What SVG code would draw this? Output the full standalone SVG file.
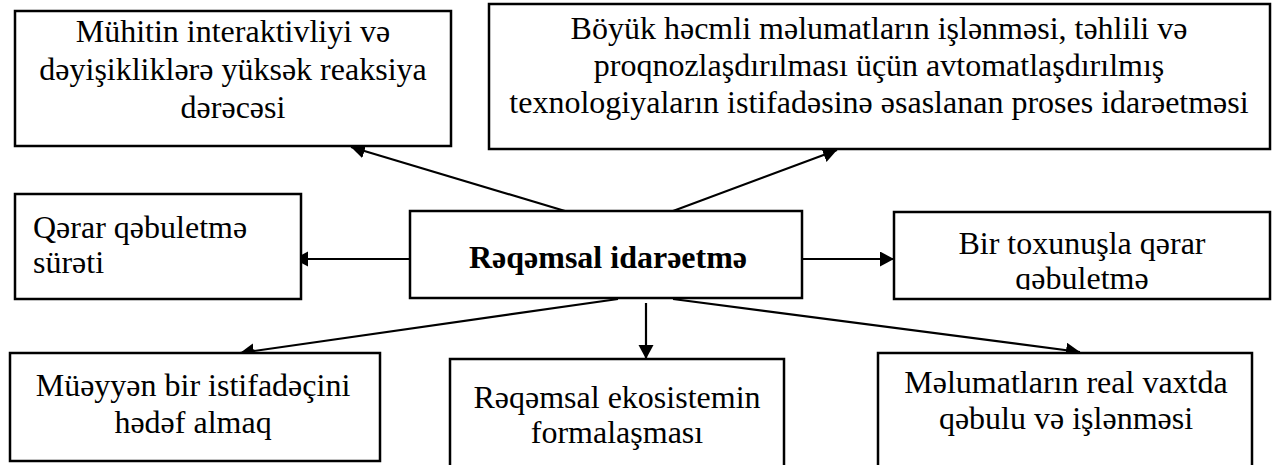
<svg xmlns="http://www.w3.org/2000/svg" width="1274" height="465" viewBox="0 0 1274 465">
<style>
.box{fill:#fff;stroke:#000;stroke-width:2.5}
.t{font-family:"Liberation Serif","DejaVu Serif",serif;font-size:32px;fill:#000}
.c{text-anchor:middle}
.b{font-weight:bold}
.con{stroke:#000;stroke-width:2.2;fill:none;marker-end:url(#ah)}
</style>
<defs>
<marker id="ah" markerUnits="userSpaceOnUse" markerWidth="16" markerHeight="16" refX="14" refY="7.5" orient="auto">
<path d="M0,0 L14,7.5 L0,15 z" fill="#000"/>
</marker>
<clipPath id="clipBir"><rect x="894" y="212" width="376" height="78"/></clipPath>
</defs>
<rect width="1274" height="465" fill="#fff"/>
<g id="connectors">
<line class="con" x1="565" y1="211" x2="351" y2="147"/>
<line class="con" x1="673" y1="211" x2="837" y2="150"/>
<line class="con" x1="409" y1="259" x2="294" y2="259"/>
<line class="con" x1="802" y1="259" x2="894" y2="259"/>
<line class="con" x1="618" y1="299" x2="240" y2="353"/>
<line class="con" x1="646" y1="303" x2="646" y2="359"/>
<line class="con" x1="673" y1="299" x2="1080" y2="352"/>
</g>
<g id="node-muhit">
<rect class="box" x="15" y="11" width="436" height="135"/>
<text class="t c" x="233" y="42">Mühitin interaktivliyi və</text>
<text class="t c" x="233" y="80">dəyişikliklərə yüksək reaksiya</text>
<text class="t c" x="233" y="118">dərəcəsi</text>
</g>
<g id="node-boyuk">
<rect class="box" x="489" y="4" width="781" height="145"/>
<text class="t c" x="879" y="39">Böyük həcmli məlumatların işlənməsi, təhlili və</text>
<text class="t c" x="879" y="76">proqnozlaşdırılması üçün avtomatlaşdırılmış</text>
<text class="t c" x="879" y="113">texnologiyaların istifadəsinə əsaslanan proses idarəetməsi</text>
</g>
<g id="node-qerar">
<rect class="box" x="15" y="194" width="286" height="105"/>
<text class="t" x="33" y="238">Qərar qəbuletmə</text>
<text class="t" x="33" y="273">sürəti</text>
</g>
<g id="node-center">
<rect class="box" x="410" y="211" width="392" height="87"/>
<text class="t c b" x="608" y="268">Rəqəmsal idarəetmə</text>
</g>
<g id="node-bir">
<rect class="box" x="894" y="212" width="376" height="87"/>
<g clip-path="url(#clipBir)">
<text class="t c" x="1082" y="254">Bir toxunuşla qərar</text>
<text class="t c" x="1082" y="289">qəbuletmə</text>
</g>
</g>
<g id="node-muyyen">
<rect class="box" x="10" y="353" width="370" height="108"/>
<text class="t c" x="193" y="396">Müəyyən bir istifadəçini</text>
<text class="t c" x="193" y="433">hədəf almaq</text>
</g>
<g id="node-ekosistem">
<rect class="box" x="450" y="359" width="334" height="115"/>
<text class="t c" x="617" y="408">Rəqəmsal ekosistemin</text>
<text class="t c" x="617" y="443">formalaşması</text>
</g>
<g id="node-melumat">
<rect class="box" x="878" y="353" width="374" height="120"/>
<text class="t c" x="1066" y="393">Məlumatların real vaxtda</text>
<text class="t c" x="1066" y="429">qəbulu və işlənməsi</text>
</g>
</svg>
